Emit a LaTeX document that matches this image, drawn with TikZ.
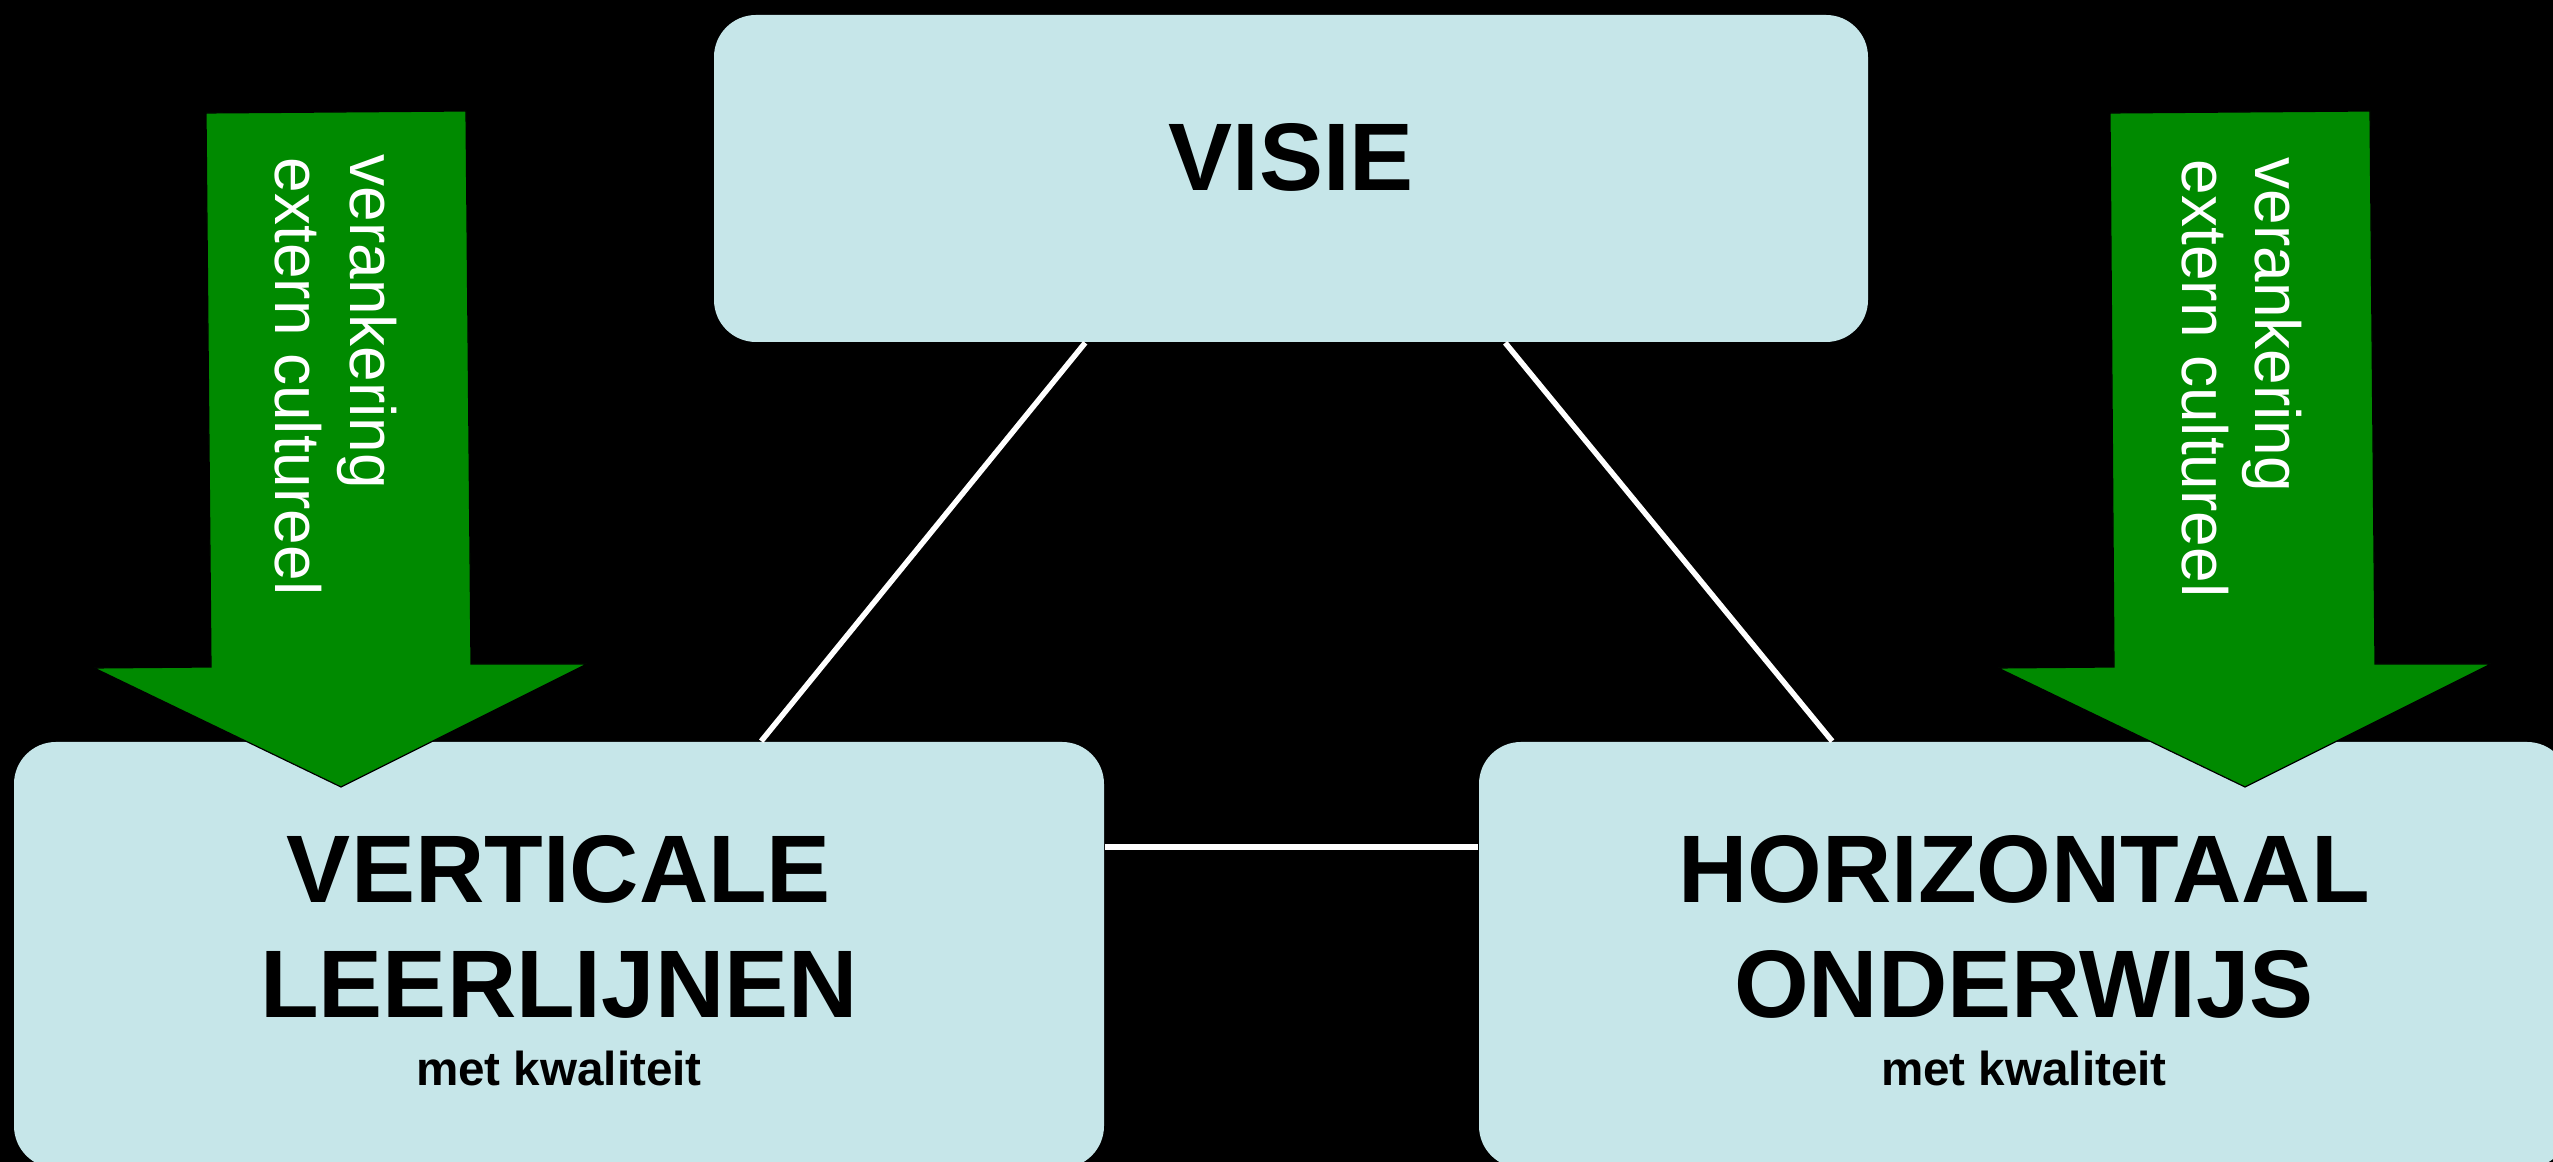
\documentclass[tikz,border=0pt]{standalone}
\usepackage{fontspec}
\newfontfamily\hel{Liberation Sans}
\usetikzlibrary{calc}
\newcommand\pxu{0.25pt}
\definecolor{boxfill}{RGB}{198,230,233}
\definecolor{arrowgreen}{RGB}{0,138,0}
\begin{document}
\begin{tikzpicture}[x=0.25pt,y=-0.25pt,
  tbox/.style={fill=boxfill, draw=none, rounded corners=42*\pxu, inner sep=0pt},
  link/.style={draw=white, line width=5.5*\pxu},
  bigtxt/.style={inner sep=0pt, anchor=base, font=\hel\bfseries\fontsize{24pt}{28pt}\selectfont},
  smalltxt/.style={inner sep=0pt, anchor=base, font=\hel\bfseries\fontsize{11.9pt}{14pt}\selectfont},
  arrtxt/.style={inner sep=0pt, anchor=base west, rotate=-90, text=white, font=\hel\fontsize{16pt}{19pt}\selectfont},
  greenarrow/.style={fill=arrowgreen, draw=black, line width=1.2*\pxu}]
\useasboundingbox (0,0) rectangle (2553,1162);
\fill[black] (0,0) rectangle (2553,1162);

% boxes
\node[tbox, minimum width=1154*\pxu, minimum height=327*\pxu] (visie) at (1291,178.5) {};
\node[tbox, minimum width=1090*\pxu, minimum height=426*\pxu] (vert) at (559,955) {};
\node[tbox, minimum width=1090*\pxu, minimum height=426*\pxu] (horiz) at (2024,955) {};

% texts
\node[bigtxt] (tvisie) at (1291,191) {VISIE};
\node[bigtxt] (tvert1) at (559,903) {VERTICALE};
\node[bigtxt] (tvert2) at (559,1018) {LEERLIJNEN};
\node[smalltxt] (tvert3) at (559,1086) {met kwaliteit};
\node[bigtxt] (thor1) at (2024,903) {HORIZONTAAL};
\node[bigtxt] (thor2) at (2024,1018) {ONDERWIJS};
\node[smalltxt] (thor3) at (2024,1086) {met kwaliteit};

% connectors
\draw[link] ($(visie.south west)+(372,0)$) -- ($(vert.north west)+(748,0)$);
\draw[link] ($(visie.south west)+(792,0)$) -- ($(horiz.north west)+(354,0)$);
\draw[link] ($(vert.north east)+(0,106)$) -- ($(horiz.north west)+(0,106)$);

% green arrows
\filldraw[greenarrow] (206,113) -- (466,111) -- (471,664) -- (587,664) -- (341,787) -- (94,668) -- (211,667) -- cycle;
\filldraw[greenarrow] (2110,113) -- (2370,111) -- (2375,664) -- (2491,664) -- (2245,787) -- (1998,668) -- (2114,667) -- cycle;

\node[arrtxt] (al1) at (350,154) {verankering};
\node[arrtxt] (al2) at (275,157) {extern cultureel};
\node[arrtxt] (ar1) at (2255,157) {verankering};
\node[arrtxt] (ar2) at (2182,159) {extern cultureel};
\end{tikzpicture}
\end{document}
